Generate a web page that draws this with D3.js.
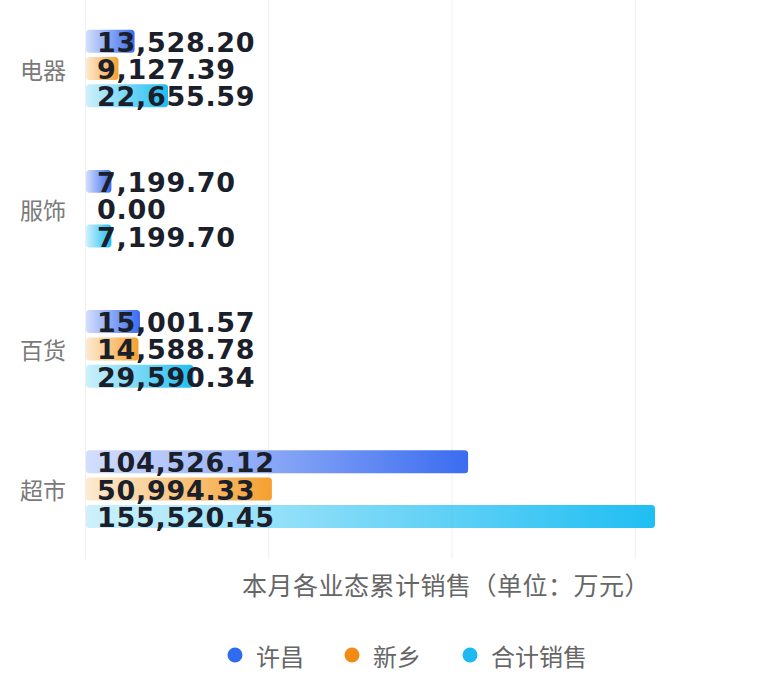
<!DOCTYPE html>
<html>
<head>
<meta charset="utf-8">
<script src="https://cdn.jsdelivr.net/npm/d3@7/dist/d3.min.js"></script>
<style>
  html, body { margin: 0; padding: 0; background: #ffffff; }
  svg { display: block; }
</style>
</head>
<body>
<svg id="chart" width="765" height="684"></svg>
<script>
// ---- data ----
const categories = ["电器", "服饰", "百货", "超市"];
const seriesNames = ["许昌", "新乡", "合计销售"];
const xuchang = [13528.20, 7199.70, 15001.57, 104526.12];
const xinxiang = [9127.39, 0.00, 14588.78, 50994.33];
const total = [22655.59, 7199.70, 29590.34, 155520.45];
const gridTicks = [0, 50000, 100000, 150000, 200000];
const axisTitle = "本月各业态累计销售（单位：万元）";

const seriesValues = [xuchang, xinxiang, total];
const barColors = ["#3a6cf0", "#f5a030", "#1fbef2"];
const legendColors = ["#2f6bef", "#f28b14", "#1db9f3"];

const W = 765, H = 684;
const svg = d3.select("#chart");

const x = d3.scaleLinear().domain([0, 200000]).range([85, 818]);
const y = d3.scaleBand().domain(categories).range([-1.6, 559.2]).padding(0);
const inner = d3.scaleBand().domain(seriesNames)
  .range([-41, 41]).paddingInner(0.16).paddingOuter(0.08);

// gradients
const defs = svg.append("defs");
barColors.forEach((c, i) => {
  const g = defs.append("linearGradient")
    .attr("id", "grad" + i)
    .attr("x1", "0").attr("y1", "0").attr("x2", "1").attr("y2", "0");
  g.append("stop").attr("offset", "0%").attr("stop-color", c).attr("stop-opacity", 0.22);
  g.append("stop").attr("offset", "100%").attr("stop-color", c).attr("stop-opacity", 1);
});

// gridlines
const grid = svg.append("g")
  .attr("transform", "translate(0,559)")
  .call(d3.axisBottom(x).tickValues(gridTicks).tickSize(-560).tickFormat(""));
grid.select(".domain").remove();
grid.selectAll(".tick line").attr("stroke", "#efefef").attr("stroke-width", 1);

// category labels
svg.append("g").selectAll("text")
  .data(categories).join("text")
  .attr("x", 66)
  .attr("y", d => y(d) + y.bandwidth() / 2)
  .attr("text-anchor", "end")
  .attr("dominant-baseline", "central")
  .attr("font-family", "'Noto Sans CJK SC', 'Noto Sans', sans-serif")
  .attr("font-size", 23)
  .attr("fill", "#7a7a7a")
  .text(d => d);

// bars + labels
const flat = [];
categories.forEach((c, ci) => {
  seriesNames.forEach((s, si) => {
    flat.push({ cat: c, series: s, si: si, value: seriesValues[si][ci] });
  });
});

const barG = svg.append("g");
barG.selectAll("rect")
  .data(flat.filter(d => d.value > 0)).join("rect")
  .attr("x", x(0) + 1)
  .attr("y", d => y(d.cat) + y.bandwidth() / 2 + inner(d.series))
  .attr("width", d => Math.max(0, x(d.value) - x(0) - 1))
  .attr("height", inner.bandwidth())
  .attr("rx", 3.5).attr("ry", 3.5)
  .attr("fill", d => "url(#grad" + d.si + ")");

const fmt = d3.format(",.2f");
svg.append("g").selectAll("text")
  .data(flat).join("text")
  .attr("x", x(0) + 12)
  .attr("y", d => y(d.cat) + y.bandwidth() / 2 + inner(d.series) + inner.bandwidth() / 2 + 1)
  .attr("dominant-baseline", "central")
  .attr("font-family", "'DejaVu Sans', sans-serif")
  .attr("font-weight", "bold")
  .attr("font-size", 27)
  .attr("letter-spacing", 0.7)
  .attr("fill", "#1a1f2b")
  .text(d => fmt(d.value));

// axis title
svg.append("text")
  .attr("x", 446).attr("y", 584)
  .attr("text-anchor", "middle")
  .attr("dominant-baseline", "central")
  .attr("font-family", "'Noto Sans CJK SC', sans-serif")
  .attr("font-size", 25)
  .attr("letter-spacing", 0.5)
  .attr("fill", "#666")
  .text(axisTitle);

// legend
const legendX = [235, 352, 470];
const lg = svg.append("g").selectAll("g")
  .data(seriesNames).join("g")
  .attr("transform", (d, i) => `translate(${legendX[i]},655)`);
lg.append("circle").attr("r", 7.5).attr("fill", (d, i) => legendColors[i]);
lg.append("text")
  .attr("x", 21)
  .attr("dominant-baseline", "central")
  .attr("font-family", "'Noto Sans CJK SC', sans-serif")
  .attr("font-size", 24)
  .attr("fill", "#666")
  .text(d => d);
</script>
</body>
</html>
